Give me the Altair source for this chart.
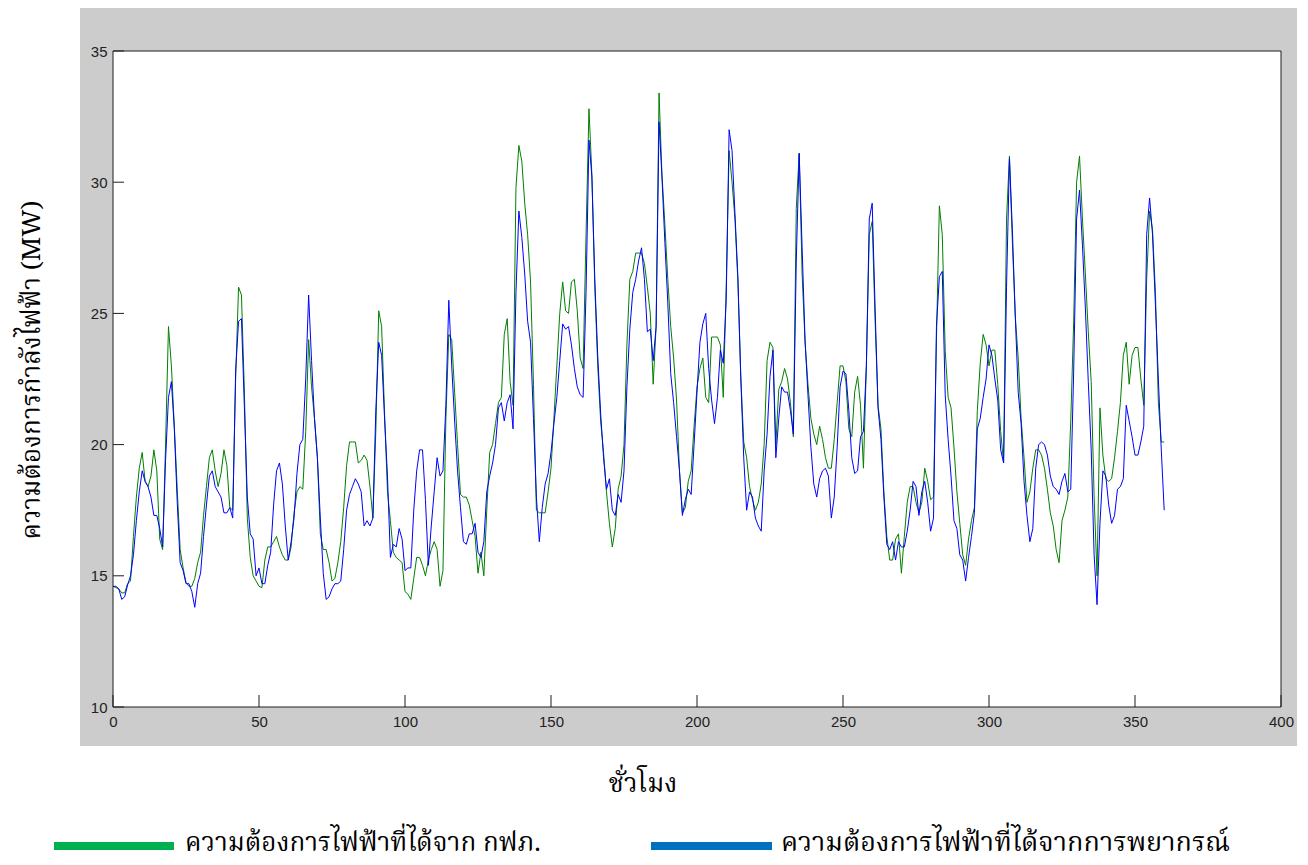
import altair as alt
import pandas as pd

# ---------------- data ----------------
hours = list(range(361))

actual = [
    14.6, 14.55, 14.5, 14.35, 14.35, 14.7, 14.8, 16.5, 18.0, 19.1,
    19.7, 18.6, 18.4, 18.8, 19.8, 19.0, 16.4, 16.0, 20.0, 24.5,
    23.0, 20.7, 18.3, 16.0, 15.3, 14.75, 14.6, 14.6, 14.9, 15.5,
    15.9, 17.3, 18.4, 19.5, 19.8, 19.0, 18.4, 18.9, 19.8, 19.2,
    17.6, 17.5, 22.5, 26.0, 25.7, 22.0, 17.2, 15.7, 15.0, 14.8,
    14.6, 14.55, 15.6, 16.1, 16.1, 16.3, 16.5, 16.1, 15.8, 15.6,
    15.6, 16.1, 17.4, 18.2, 18.4, 18.3, 20.5, 24.0, 22.2, 21.0,
    19.5, 16.6, 16.0, 16.0, 15.5, 14.8, 14.9, 15.5, 16.3, 17.6,
    19.2, 20.1, 20.1, 20.1, 19.3, 19.4, 19.6, 19.4, 18.4, 17.2,
    20.5, 25.1, 24.5, 21.2, 18.2, 17.1, 15.9, 15.7, 15.6, 15.5,
    14.4, 14.3, 14.1, 14.9, 15.7, 15.7, 15.4, 15.0, 15.6, 16.0,
    16.3, 16.0, 14.6, 15.2, 21.0, 24.2, 24.0, 22.0, 20.0, 18.1,
    18.0, 18.0, 17.7, 17.1, 16.5, 15.1, 15.9, 15.0, 17.5, 19.7,
    20.0, 20.8, 21.6, 21.8, 24.2, 24.8, 22.4, 21.5, 29.8, 31.4,
    30.8, 29.2, 28.0, 26.2, 22.3, 17.5, 17.4, 17.4, 17.4, 18.2,
    19.1, 21.0, 23.0, 25.0, 26.2, 25.1, 25.0, 26.2, 26.3, 25.1,
    23.3, 22.9, 28.0, 32.8, 30.3, 26.0, 23.0, 20.9, 19.7, 18.2,
    17.0, 16.1, 16.8, 18.3, 18.8, 20.0, 23.8, 26.3, 26.6, 27.3,
    27.3, 27.3, 26.9, 26.0, 25.0, 22.3, 24.5, 33.4, 30.3, 28.4,
    26.3, 24.5, 23.3, 21.7, 19.0, 17.4, 17.6, 18.6, 19.0, 20.7,
    22.2, 22.9, 23.3, 21.8, 21.6, 24.1, 24.1, 24.1, 23.8, 21.8,
    26.0, 31.2, 30.0, 28.6, 26.2, 22.6, 20.1, 19.5, 18.4, 17.9,
    17.5, 17.8, 18.5, 20.0, 23.2, 23.9, 23.7, 20.0, 22.1, 22.4,
    22.9, 22.5, 21.6, 20.3, 29.0, 31.1, 26.5, 23.9, 22.3, 21.0,
    20.4, 20.0, 20.7, 20.2, 19.5, 19.1, 19.1, 20.2, 21.6, 23.0,
    23.0, 22.4, 20.6, 20.3, 22.0, 22.6, 21.5, 19.1, 23.0, 28.0,
    28.5, 24.7, 21.5, 20.6, 18.2, 16.5, 15.6, 15.6, 16.4, 16.6,
    15.1, 16.5, 17.8, 18.4, 18.4, 17.8, 17.4, 17.8, 19.1, 18.6,
    17.9, 18.0, 24.0, 29.1, 28.0, 23.6, 21.8, 21.4, 19.9, 18.2,
    17.0, 15.8, 15.4, 16.4, 17.1, 17.6, 21.3, 23.1, 24.2, 23.8,
    23.0, 23.6, 23.6, 22.3, 20.5, 19.3, 28.6, 31.0, 27.7, 24.9,
    23.3, 21.0, 19.5, 17.8, 18.2, 19.1, 19.8, 19.8, 19.6, 19.1,
    18.3, 17.4, 16.9, 16.0, 15.5, 17.1, 17.5, 18.0, 20.9, 24.7,
    30.0, 31.0, 28.6, 26.5, 24.3, 22.4, 18.0, 15.0, 21.4, 19.6,
    18.7, 18.6, 18.7, 19.5, 20.5, 21.6, 23.4, 23.9, 22.3, 23.4,
    23.7, 23.7, 22.5, 21.5, 26.3, 28.9, 28.2, 25.8, 21.6, 20.1,
    20.1,
]

forecast = [
    14.6, 14.6, 14.5, 14.1, 14.2, 14.65, 15.0, 15.8, 17.1, 18.2,
    19.0, 18.6, 18.4, 18.0, 17.3, 17.3, 16.8, 16.1, 19.4, 21.8,
    22.4, 20.6, 17.8, 15.5, 15.2, 14.7, 14.7, 14.4, 13.8, 14.7,
    15.1, 16.5, 17.7, 18.8, 19.0, 18.4, 18.2, 18.0, 17.4, 17.4,
    17.6, 17.2, 22.8, 24.7, 24.8, 21.4, 18.0, 16.6, 16.4, 15.0,
    15.3, 14.7, 14.7, 15.4, 15.9, 17.7, 19.0, 19.3, 18.5, 16.9,
    15.6, 16.3, 17.2, 18.9, 20.0, 20.2, 22.5, 25.7, 23.2, 21.0,
    19.5, 17.2, 15.1, 14.1, 14.2, 14.5, 14.7, 14.7, 14.8, 16.0,
    17.5, 18.1, 18.4, 18.7, 18.5, 18.2, 16.9, 17.1, 16.9, 17.2,
    21.3, 23.9, 23.4, 21.0, 18.8, 15.7, 16.2, 16.1, 16.8, 16.4,
    15.2, 15.3, 15.3, 17.5, 19.0, 19.8, 19.8, 17.9, 15.4, 16.9,
    18.2, 19.5, 18.8, 19.0, 21.5, 25.5, 23.0, 20.9, 19.0, 17.6,
    16.3, 16.2, 16.6, 16.6, 17.0, 15.9, 15.7, 16.3, 18.2, 18.8,
    19.3, 20.0, 21.4, 21.6, 20.9, 21.6, 21.9, 20.6, 25.8, 28.9,
    27.9, 26.5, 24.7, 23.9, 21.0, 18.0, 16.3, 17.6, 18.5, 18.9,
    19.7, 20.8, 21.8, 23.2, 24.6, 24.4, 24.5, 23.8, 22.9, 22.2,
    21.9, 21.8, 25.8, 31.6, 30.2, 26.3, 23.4, 21.2, 19.5, 18.3,
    18.7, 17.5, 17.3, 18.1, 17.8, 19.0, 22.2, 24.4, 25.8, 26.3,
    27.0, 27.5, 26.3, 24.3, 24.4, 23.2, 24.5, 32.3, 30.2, 27.7,
    25.4, 22.7, 21.6, 20.3, 19.0, 17.3, 17.9, 18.3, 18.1, 20.0,
    22.0, 23.9, 24.6, 25.0, 22.9, 21.7, 20.8, 21.8, 23.6, 23.1,
    25.5, 32.0, 31.2, 28.8, 26.4, 22.5, 19.5, 17.5, 18.2, 18.0,
    17.2, 16.9, 16.7, 19.0, 20.4, 22.6, 23.6, 19.5, 21.0, 22.2,
    22.0, 22.0, 21.3, 20.4, 27.0, 31.1, 27.5, 24.0, 21.9, 19.9,
    18.5, 18.0, 18.7, 19.0, 19.1, 18.8, 17.2, 18.0, 19.9, 22.2,
    22.8, 22.7, 21.3, 19.5, 18.9, 19.0, 20.3, 20.5, 23.0, 28.6,
    29.2, 25.2, 21.4, 20.2, 18.0, 16.2, 16.0, 16.3, 15.6, 16.3,
    16.1, 16.1, 16.7, 17.5, 18.6, 18.4, 17.3, 18.2, 18.6, 17.8,
    16.7, 17.2, 24.5, 26.4, 26.6, 21.9, 20.2, 18.8, 17.1, 16.8,
    15.8, 15.6, 14.8, 15.7, 16.5, 17.4, 20.6, 21.0, 21.8, 22.5,
    23.8, 23.4, 22.5, 21.7, 19.8, 19.3, 26.0, 30.9, 28.2, 24.9,
    22.0, 20.8, 18.6, 17.3, 16.3, 16.8, 19.1, 20.0, 20.1, 20.0,
    19.6, 18.8, 18.4, 18.3, 18.1, 18.6, 18.9, 18.2, 18.3, 22.8,
    28.6, 29.7, 27.6, 25.2, 22.4, 19.8, 15.8, 13.9, 17.0, 19.0,
    18.8, 17.7, 17.0, 17.3, 18.3, 18.4, 18.7, 21.5, 20.9, 20.3,
    19.6, 19.6, 20.1, 20.7, 28.0, 29.4, 28.0, 25.3, 22.5, 19.8,
    17.5,
]

x_ticks = [0, 50, 100, 150, 200, 250, 300, 350, 400]
y_ticks = [10, 15, 20, 25, 30, 35]

series_names = ["actual", "forecast"]
x_title = "ชั่วโมง"
y_title = "ความต้องการกำลังไฟฟ้า (MW)"
legend_labels = ["ความต้องการไฟฟ้าที่ได้จาก กฟภ.", "ความต้องการไฟฟ้าที่ได้จากการพยากรณ์"]

# ---------------- styling ----------------
W, H = 1168, 656
LINE_GREEN = "#008000"
LINE_BLUE = "#0000ff"
LEG_GREEN = "#00b050"
LEG_BLUE = "#0070c0"
FIG_GRAY = "#cccccc"
AX_COLOR = "#1e1e1e"
TICK_FONT = "Liberation Sans"
THAI_FONT = "Noto Serif Thai, Noto Sans Thai, Norasi, Garuda, Loma, serif"

df = pd.DataFrame({
    "hour": hours * 2,
    "value": actual + forecast,
    "series": [series_names[0]] * len(hours) + [series_names[1]] * len(hours),
})

xscale = alt.Scale(domain=[0, 400], nice=False, zero=False)
yscale = alt.Scale(domain=[10, 35], nice=False, zero=False)

x_axis = alt.Axis(values=x_ticks, ticks=False, domain=False, grid=False,
                  labelPadding=7, labelFontSize=15, labelFont=TICK_FONT,
                  labelColor="#222222", labelFlush=False, title=None, zindex=1)
y_axis = alt.Axis(values=y_ticks, ticks=False, domain=False, grid=False,
                  labelPadding=6, labelFontSize=15, labelFont=TICK_FONT,
                  labelColor="#222222", labelFlush=False, title=None, zindex=1)

one = alt.Data(values=[{"k": 1}])

fig_bg = alt.Chart(one).mark_rect(color=FIG_GRAY).encode(
    x=alt.value(-33), x2=alt.value(1184), y=alt.value(-44), y2=alt.value(695))
plot_bg = alt.Chart(one).mark_rect(color="white").encode(
    x=alt.value(0), x2=alt.value(W), y=alt.value(0), y2=alt.value(H))

green_line = alt.Chart(df).transform_filter(
    alt.datum.series == series_names[0]
).mark_line(color=LINE_GREEN, strokeWidth=1, interpolate="linear").encode(
    x=alt.X("hour:Q", scale=xscale, axis=x_axis),
    y=alt.Y("value:Q", scale=yscale, axis=y_axis),
)
blue_line = alt.Chart(df).transform_filter(
    alt.datum.series == series_names[1]
).mark_line(color=LINE_BLUE, strokeWidth=1, interpolate="linear").encode(
    x=alt.X("hour:Q", scale=xscale, axis=x_axis),
    y=alt.Y("value:Q", scale=yscale, axis=y_axis),
)

xt = alt.Chart(pd.DataFrame({"hour": x_ticks})).mark_rule(color=AX_COLOR, strokeWidth=1).encode(
    x=alt.X("hour:Q", scale=xscale, axis=x_axis),
    y=alt.value(H), y2=alt.value(H - 12))
yt = alt.Chart(pd.DataFrame({"value": y_ticks})).mark_rule(color=AX_COLOR, strokeWidth=1).encode(
    y=alt.Y("value:Q", scale=yscale, axis=y_axis),
    x=alt.value(0), x2=alt.value(11))

border = alt.Chart(one).mark_rect(fillOpacity=0, stroke=AX_COLOR, strokeWidth=1).encode(
    x=alt.value(0), x2=alt.value(W), y=alt.value(0), y2=alt.value(H))

ytitle = alt.Chart(one).mark_text(text=y_title, angle=270, align="center", baseline="middle",
                                  font=THAI_FONT, fontSize=26, color="black").encode(
    x=alt.value(-81), y=alt.value(319))
xtitle = alt.Chart(one).mark_text(text=x_title, align="center", baseline="middle",
                                  font=THAI_FONT, fontSize=26, color="black").encode(
    x=alt.value(530), y=alt.value(733))

leg_g_line = alt.Chart(one).mark_rule(color=LEG_GREEN, strokeWidth=8).encode(
    x=alt.value(-59), x2=alt.value(61), y=alt.value(795))
leg_b_line = alt.Chart(one).mark_rule(color=LEG_BLUE, strokeWidth=8).encode(
    x=alt.value(538), x2=alt.value(659), y=alt.value(795))
leg_g_text = alt.Chart(one).mark_text(text=legend_labels[0], align="left", baseline="middle",
                                      font=THAI_FONT, fontSize=26, color="black").encode(
    x=alt.value(72), y=alt.value(792))
leg_b_text = alt.Chart(one).mark_text(text=legend_labels[1], align="left", baseline="middle",
                                      font=THAI_FONT, fontSize=27, color="black").encode(
    x=alt.value(668), y=alt.value(792))

chart = alt.layer(
    fig_bg, plot_bg, green_line, blue_line, xt, yt, border,
    ytitle, xtitle, leg_g_line, leg_b_line, leg_g_text, leg_b_text,
).properties(
    width=W, height=H,
    autosize=alt.AutoSizeParams(type="none"),
    padding={"left": 105, "top": 43, "right": 19, "bottom": 157},
    background="white",
).configure_view(strokeWidth=0)

chart.save("out.html", embed_options={"renderer": "svg", "actions": False})
